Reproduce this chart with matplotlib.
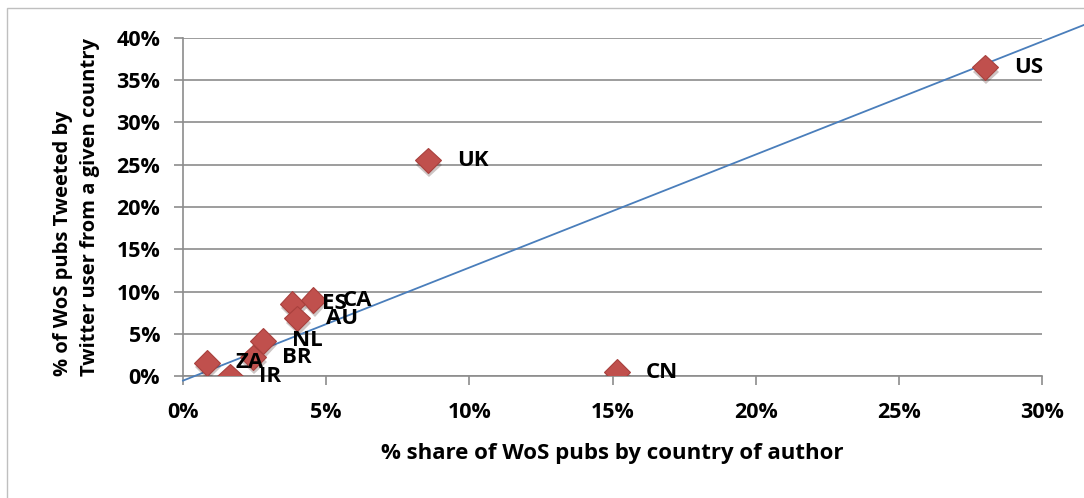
import matplotlib
matplotlib.use('Agg')
import matplotlib.pyplot as plt
import matplotlib.patheffects as pe
from matplotlib.patches import Rectangle
from matplotlib.ticker import FuncFormatter
import numpy as np

plt.rcParams['font.family'] = ['Open Sans', 'DejaVu Sans']
plt.rcParams['font.weight'] = 'bold'

# Данные: доля публикаций WoS (%) и доля твитов (%)
countries = ['US', 'UK', 'CN', 'ES', 'CA', 'AU', 'NL', 'BR', 'ZA', 'IR']
share_pubs = [28.0, 8.55, 15.15, 3.82, 4.55, 3.99, 2.80, 2.44, 0.83, 1.64]
share_tweets = [36.5, 25.5, 0.5, 8.6, 9.0, 6.85, 4.2, 2.25, 1.6, 0.0]

# линия тренда (как на исходном графике)
trend_slope = 1.335
trend_intercept = -0.5
trend_x = [0, 31.47]

x = np.array(share_pubs)
y = np.array(share_tweets)

fig = plt.figure(figsize=(10.84, 4.98), dpi=100)
ax = fig.add_axes([183/1084, 1 - 376.4/498, (1042 - 183)/1084, (376.4 - 37.7)/498])

# рамка области диаграммы
fig.patches.append(Rectangle((7/1084, -0.1), 1.2, 1 - 8/498 + 0.1, transform=fig.transFigure,
                             fill=False, edgecolor='#bfbfbf', linewidth=1))

grid_col = '#8c8c8c'
ax.set_xlim(0, 30)
ax.set_ylim(0, 40)
ax.set_xticks(np.arange(0, 31, 5))
ax.set_yticks(np.arange(0, 41, 5))
ax.yaxis.grid(True, color=grid_col, linewidth=1.2)
ax.set_axisbelow(True)
for s in ['top', 'right']:
    ax.spines[s].set_visible(False)
for s in ['left', 'bottom']:
    ax.spines[s].set_color(grid_col)
    ax.spines[s].set_linewidth(1.2)
ax.tick_params(axis='both', direction='out', length=6.5, width=1.2, color=grid_col,
               labelsize=15.5)
fmt = FuncFormatter(lambda v, p: '{:.0f}%'.format(v))
ax.xaxis.set_major_formatter(fmt)
ax.yaxis.set_major_formatter(fmt)
ax.tick_params(axis='x', pad=12)
ax.tick_params(axis='y', pad=10)
for lab in ax.get_xticklabels() + ax.get_yticklabels():
    lab.set_fontweight('bold')

# Линейный тренд
xt = np.array(trend_x)
ax.plot(xt, trend_slope * xt + trend_intercept, color='#4a7ebb', linewidth=1.3,
        clip_on=False, zorder=3)

ax.plot(x, y, 'D', markersize=13, color='#c0504d', markeredgecolor='#a8403d',
        markeredgewidth=0.8, zorder=4,
        path_effects=[pe.SimplePatchShadow(offset=(1, -3), alpha=0.25), pe.Normal()])

for c, xi, yi in zip(countries, x, y):
    ax.annotate(c, (xi, yi), xytext=(21, 0), textcoords='offset points',
                ha='left', va='center', fontsize=16, fontweight='bold', zorder=5,
                annotation_clip=False)

ax.set_xlabel('% share of WoS pubs by country of author', fontsize=16,
              fontweight='bold', labelpad=14)
ax.set_ylabel('% of WoS pubs Tweeted by\nTwitter user from a given country', fontsize=14.5,
              fontweight='bold', labelpad=12, linespacing=1.45, multialignment='left')

fig.savefig('out.png', dpi=100)
